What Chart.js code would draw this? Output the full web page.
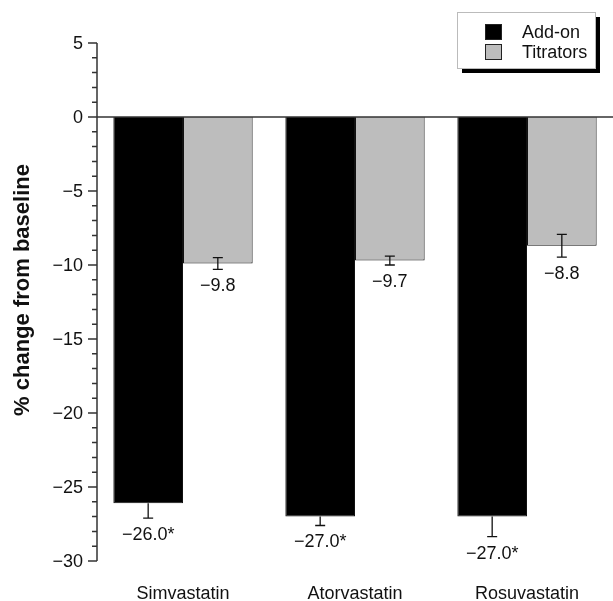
<!DOCTYPE html>
<html>
<head>
<meta charset="utf-8">
<script src="https://cdn.jsdelivr.net/npm/chart.js@4.4.1/dist/chart.umd.min.js"></script>
<style>
  html, body { margin: 0; padding: 0; background: #fff; }
  #wrap { width: 613px; height: 601px; position: relative; }
</style>
</head>
<body>
<div id="wrap"><canvas id="chart"></canvas></div>
<script>
var categories = ["Simvastatin", "Atorvastatin", "Rosuvastatin"];
var seriesNames = ["Add-on", "Titrators"];
var addOnValues = [-26.1, -27.0, -27.0];
var titratorValues = [-9.9, -9.7, -8.7];
var addOnErrors = [1.0, 0.6, 1.35];
var titratorErrors = [0.4, 0.3, 0.77];
var addOnLabels = ["\u221226.0*", "\u221227.0*", "\u221227.0*"];
var titratorLabels = ["\u22129.8", "\u22129.7", "\u22128.8"];
var yTickLabels = [5, 0, -5, -10, -15, -20, -25, -30];

var _Font = "'Liberation Sans', Arial, sans-serif";

// error bars, value labels, axis ticks, zero line, legend
var drawExtras = {
    id: "drawExtras",
    afterDatasetsDraw: function (chart) {
        var ctx = chart.ctx;
        var y = chart.scales.y;
        var area = chart.chartArea;
        ctx.save();

        // zero line
        ctx.strokeStyle = "#333";
        ctx.lineWidth = 1.5;
        ctx.beginPath();
        ctx.moveTo(area.left, y.getPixelForValue(0));
        ctx.lineTo(area.right, y.getPixelForValue(0));
        ctx.stroke();

        // y axis line and ticks
        ctx.beginPath();
        ctx.moveTo(area.left, y.getPixelForValue(5));
        ctx.lineTo(area.left, y.getPixelForValue(-30));
        for (var v = 5; v >= -30; v--) {
            var py = y.getPixelForValue(v);
            var len = (v % 5 === 0) ? 9 : 5;
            ctx.moveTo(area.left - len, py);
            ctx.lineTo(area.left, py);
        }
        ctx.stroke();

        ctx.fillStyle = "#111";
        ctx.font = "18px " + _Font;
        ctx.textAlign = "right";
        ctx.textBaseline = "middle";
        for (var i = 0; i < yTickLabels.length; i++) {
            var t = yTickLabels[i];
            var s = t < 0 ? "\u2212" + Math.abs(t) : String(t);
            ctx.fillText(s, area.left - 14, y.getPixelForValue(t) + 1);
        }

        // y title
        ctx.save();
        ctx.translate(23, 290);
        ctx.rotate(-Math.PI / 2);
        ctx.textAlign = "center";
        ctx.font = "bold 22px " + _Font;
        ctx.fillText("% change from baseline", 0, 0);
        ctx.restore();

        // error bars and value labels (add-on bars only show lower half)
        var sets = [
            { vals: addOnValues, errs: addOnErrors, labels: addOnLabels, upper: false },
            { vals: titratorValues, errs: titratorErrors, labels: titratorLabels, upper: true }
        ];
        ctx.lineWidth = 1.3;
        ctx.strokeStyle = "#111";
        ctx.font = "18px " + _Font;
        ctx.textAlign = "center";
        for (var d = 0; d < sets.length; d++) {
            var meta = chart.getDatasetMeta(d);
            for (var k = 0; k < sets[d].vals.length; k++) {
                var cx = meta.data[k].x;
                var mid = y.getPixelForValue(sets[d].vals[k]);
                var top = sets[d].upper ? y.getPixelForValue(sets[d].vals[k] + sets[d].errs[k]) : mid;
                var bot = y.getPixelForValue(sets[d].vals[k] - sets[d].errs[k]);
                ctx.beginPath();
                ctx.moveTo(cx, top);
                ctx.lineTo(cx, bot);
                if (sets[d].upper) {
                    ctx.moveTo(cx - 5, top);
                    ctx.lineTo(cx + 5, top);
                }
                ctx.moveTo(cx - 5, bot);
                ctx.lineTo(cx + 5, bot);
                ctx.stroke();
                ctx.fillText(sets[d].labels[k], cx, bot + 17);
            }
        }

        // legend box with shadow
        var lx = 457, ly = 12, lw = 138, lh = 56;
        ctx.fillStyle = "#000";
        ctx.fillRect(lx + 5, ly + 5, lw, lh);
        ctx.fillStyle = "#fff";
        ctx.fillRect(lx, ly, lw, lh);
        ctx.lineWidth = 1;
        ctx.strokeStyle = "#bbb";
        ctx.strokeRect(lx + 0.5, ly + 0.5, lw, lh);
        var colors = ["#000000", "#bdbdbd"];
        ctx.font = "18px " + _Font;
        ctx.textAlign = "left";
        for (var n = 0; n < seriesNames.length; n++) {
            var ry = 24 + n * 20;
            ctx.fillStyle = colors[n];
            ctx.fillRect(485, ry, 17, 16);
            ctx.strokeStyle = "#222";
            ctx.strokeRect(485.5, ry + 0.5, 16, 15);
            ctx.fillStyle = "#111";
            ctx.fillText(seriesNames[n], 522, ry + 9);
        }
        ctx.restore();
    }
};

var ctx = document.getElementById("chart");
var BarChart = new Chart(ctx, {
    type: "bar",
    data: {
        labels: categories,
        datasets: [
            { label: seriesNames[0], data: addOnValues, backgroundColor: "#000000", borderColor: "#111", borderWidth: 1 },
            { label: seriesNames[1], data: titratorValues, backgroundColor: "#bdbdbd", borderColor: "#111", borderWidth: 1 }
        ]
    },
    options: {
        responsive: true,
        maintainAspectRatio: false,
        animation: false,
        layout: { padding: { top: 43, right: 0, left: 0, bottom: 0 } },
        plugins: { legend: { display: false }, tooltip: { enabled: false } },
        datasets: { bar: { categoryPercentage: 0.81, barPercentage: 1.0 } },
        scales: {
            x: {
                grid: { display: false, drawTicks: false },
                border: { display: false },
                ticks: { color: "#111", padding: 22, font: { size: 18, family: _Font } },
                afterFit: function (s) { s.height = 40; }
            },
            y: {
                min: -30,
                max: 5,
                grid: { display: false, drawTicks: false },
                border: { display: false },
                ticks: { display: false, stepSize: 5 },
                afterFit: function (s) { s.width = 97; }
            }
        }
    },
    plugins: [drawExtras]
});
</script>
</body>
</html>
